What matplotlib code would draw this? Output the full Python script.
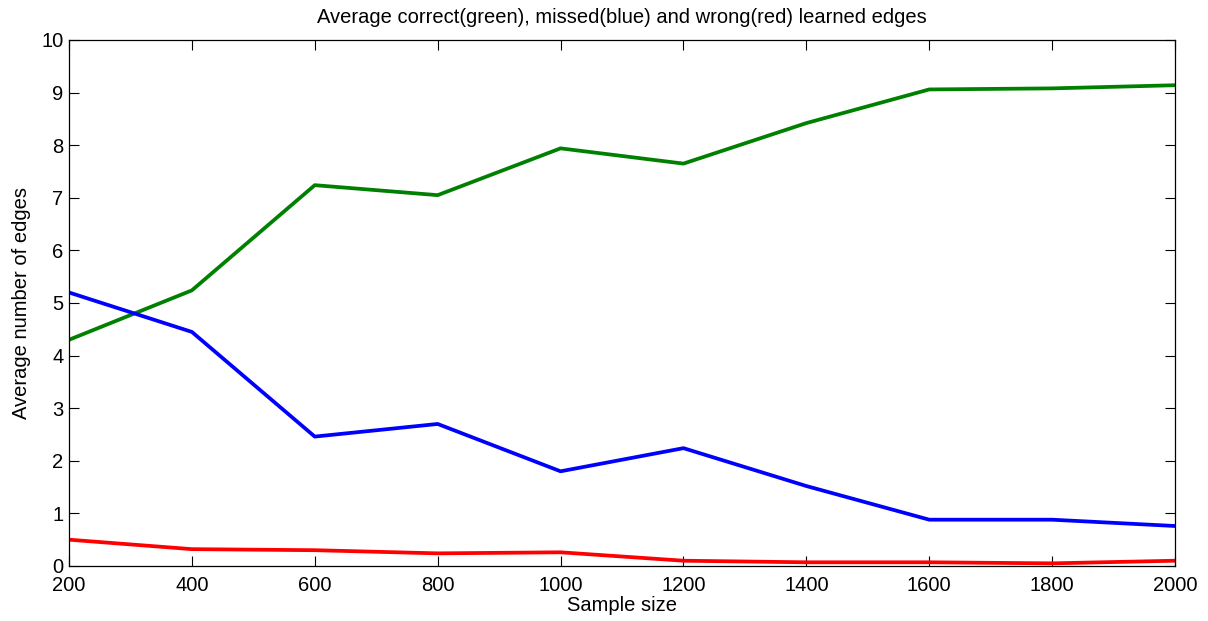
import matplotlib
matplotlib.use("Agg")
import matplotlib.pyplot as plt

plt.rcParams['font.family'] = ['Liberation Sans', 'DejaVu Sans']

sample_size = [200, 400, 600, 800, 1000, 1200, 1400, 1600, 1800, 2000]
correct = [4.30, 5.24, 7.24, 7.05, 7.94, 7.65, 8.42, 9.06, 9.08, 9.14]
missed = [5.20, 4.45, 2.46, 2.70, 1.80, 2.24, 1.52, 0.88, 0.88, 0.76]
wrong = [0.50, 0.32, 0.30, 0.24, 0.26, 0.10, 0.07, 0.07, 0.05, 0.10]

fig = plt.figure(figsize=(12.08, 6.21), dpi=100)
ax = fig.add_axes([0.0571, 0.0886, 0.9156, 0.847])

ax.plot(sample_size, correct, color=(0, 0.5, 0), linewidth=2.7)
ax.plot(sample_size, missed, color=(0, 0, 1), linewidth=2.7)
ax.plot(sample_size, wrong, color=(1, 0, 0), linewidth=2.7)

ax.set_xlim(200, 2000)
ax.set_ylim(0, 10)
ax.set_xticks(range(200, 2001, 200))
ax.set_yticks(range(0, 11))
ax.tick_params(direction='in', top=True, right=True, length=7, labelsize=14.5, width=0.8)
ax.tick_params(axis='x', pad=7)
ax.tick_params(axis='y', pad=4)
for s in ax.spines.values():
    s.set_linewidth(0.9)

ax.set_title("Average correct(green), missed(blue) and wrong(red) learned edges", fontsize=14.5, pad=12)
ax.set_xlabel("Sample size", fontsize=14.5, labelpad=1)
ax.set_ylabel("Average number of edges", fontsize=14.5, labelpad=7)

fig.savefig("out.png", dpi=100)
